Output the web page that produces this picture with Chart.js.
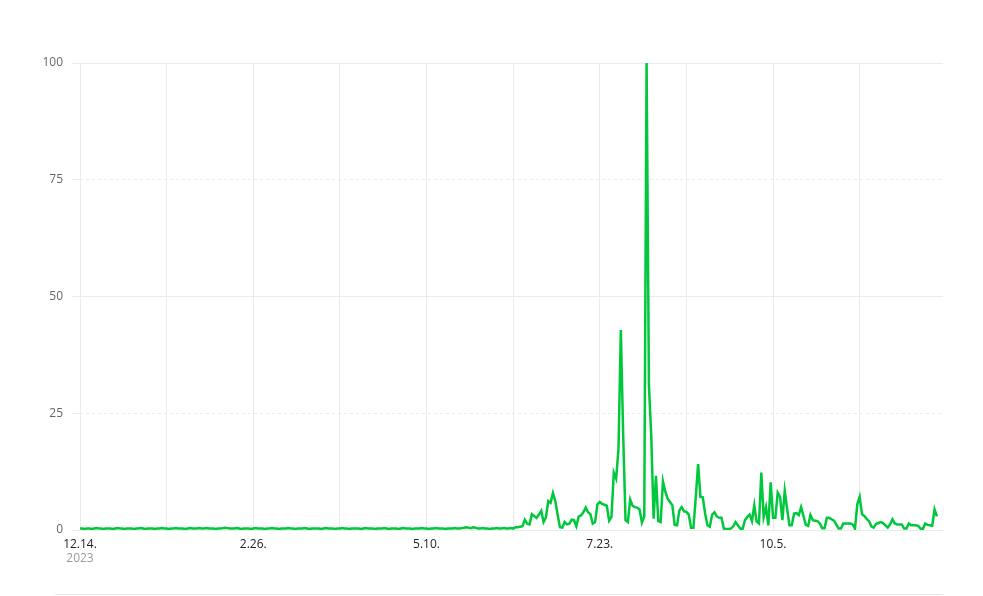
<!DOCTYPE html>
<html>
<head>
<meta charset="utf-8">
<script src="https://cdn.jsdelivr.net/npm/chart.js@4/dist/chart.umd.min.js"></script>
<style>
  html, body { margin: 0; padding: 0; background: #fff; }
  #wrap { position: relative; width: 983px; height: 596px; }
  #bottomRule { position: absolute; left: 55px; top: 594px; width: 888px; height: 0; border-top: 1px solid #e6e6e6; }
</style>
</head>
<body>
<div id="wrap">
  <canvas id="c" width="983" height="596"></canvas>
  <div id="bottomRule"></div>
</div>
<script>
// Daily search-interest index, 2023-12-14 .. 2024-12-14 (day index 0..366)
const yearLabel = '2023';
const tickLabels = ['12.14.', '2.26.', '5.10.', '7.23.', '10.5.'];
const yTicks = [0, 25, 50, 75, 100];

// days 0..184 (quiet period)
const valuesQuiet = [
  0.3,0.3,0.2,0.3,0.3,0.2,0.3,0.4,0.3,0.3,0.2,0.3,0.3,0.3,0.2,0.3,0.4,0.3,0.3,0.2,
  0.3,0.3,0.3,0.2,0.3,0.3,0.4,0.3,0.2,0.3,0.3,0.3,0.2,0.3,0.3,0.4,0.3,0.3,0.2,0.3,
  0.3,0.4,0.3,0.3,0.3,0.2,0.3,0.4,0.3,0.3,0.3,0.4,0.3,0.3,0.4,0.3,0.3,0.3,0.2,0.3,
  0.3,0.4,0.5,0.4,0.3,0.3,0.3,0.4,0.3,0.2,0.3,0.3,0.3,0.2,0.3,0.4,0.3,0.3,0.3,0.2,
  0.3,0.3,0.4,0.3,0.3,0.2,0.3,0.3,0.3,0.4,0.3,0.3,0.2,0.3,0.3,0.3,0.4,0.3,0.2,0.3,
  0.3,0.3,0.3,0.2,0.3,0.4,0.3,0.3,0.3,0.2,0.3,0.3,0.4,0.3,0.3,0.2,0.3,0.3,0.3,0.3,
  0.2,0.3,0.4,0.3,0.3,0.3,0.2,0.3,0.3,0.3,0.4,0.3,0.2,0.3,0.3,0.3,0.2,0.3,0.4,0.3,
  0.3,0.3,0.2,0.3,0.3,0.3,0.4,0.3,0.3,0.2,0.3,0.3,0.4,0.3,0.3,0.3,0.2,0.3,0.3,0.3,
  0.4,0.3,0.3,0.4,0.5,0.6,0.5,0.4,0.6,0.5,0.3,0.3,0.4,0.3,0.3,0.2,0.3,0.3,0.4,0.3,
  0.3,0.4,0.3,0.3,0.4
];
// days 185..366 (active period)
const valuesActive = [
  0.3,0.6,0.6,0.7,0.8,2.2,1.35,1.2,3.4,3.0,2.6,3.3,4.1,1.7,2.7,
  6.2,5.8,7.9,6.2,3.3,0.6,0.5,1.7,1.2,1.35,2.2,2.1,0.8,2.9,3.1,
  3.8,4.8,3.8,3.4,1.35,1.7,5.5,6.0,5.6,5.4,5.2,2.0,2.8,12.3,11.0,
  17.4,42.8,20.4,2.1,1.7,6.5,5.2,4.9,4.8,4.4,1.6,2.9,100,31,20,
  2.4,11.6,1.9,1.7,10.4,8.2,6.7,6.0,5.3,1.1,1.0,4.2,4.9,4.0,3.9,
  3.3,0.5,0.5,7.0,14.1,7.1,7.0,3.5,1.0,0.7,3.3,3.8,2.9,2.6,2.6,
  0.3,0.2,0.2,0.3,0.8,1.7,1.0,0.3,0.2,2.1,2.8,3.3,1.9,5.3,1.8,
  1.4,12.3,2.8,4.9,1.0,10.2,2.6,2.6,8.0,7.1,2.1,8.4,4.6,1.0,1.0,
  3.5,3.6,3.2,4.9,3.0,1.1,0.9,3.2,2.1,2.0,1.9,1.4,0.4,0.4,2.6,
  2.6,2.3,2.0,1.2,0.3,0.3,1.4,1.4,1.4,1.4,1.2,0.3,5.5,7.1,3.4,
  3.0,2.4,1.9,0.8,0.5,1.3,1.5,1.7,1.5,1.0,0.5,1.2,2.3,1.4,1.2,
  1.2,1.2,0.3,0.3,1.4,1.0,1.0,1.0,0.9,0.3,0.2,1.4,1.1,1.0,0.9,
  4.4,2.9
];
const values = valuesQuiet.concat(valuesActive);
const points = values.map((v, i) => ({ x: i, y: v }));

const labelStep = 74;   // days between labelled ticks
const gridStep = 37;    // days between vertical grid lines

const yearPlugin = {
  id: 'yearLabel',
  afterDraw(chart) {
    const xs = chart.scales.x;
    const ctx = chart.ctx;
    ctx.save();
    ctx.font = '12px "Open Sans", "Noto Sans", sans-serif';
    ctx.fillStyle = '#9a9a9a';
    ctx.textAlign = 'center';
    ctx.textBaseline = 'middle';
    ctx.fillText(yearLabel, xs.getPixelForValue(0), 559);
    ctx.restore();
  }
};

new Chart(document.getElementById('c'), {
  type: 'line',
  data: {
    datasets: [{
      data: points,
      borderColor: '#00c73c',
      borderWidth: 2.5,
      pointRadius: 0,
      pointHoverRadius: 0,
      tension: 0,
      fill: false
    }]
  },
  options: {
    responsive: false,
    animation: false,
    events: [],
    layout: { padding: { left: 0, right: 40, top: 63, bottom: 0 } },
    plugins: { legend: { display: false }, tooltip: { enabled: false } },
    scales: {
      x: {
        type: 'linear',
        min: 0,
        max: 368.6,
        afterBuildTicks(scale) {
          const t = [];
          for (let d = 0; d <= 366; d += gridStep) t.push({ value: d });
          scale.ticks = t;
        },
        afterFit(scale) { scale.height = 66; },
        grid: { color: '#ebebeb', lineWidth: 1, drawTicks: false },
        border: { display: false },
        ticks: {
          autoSkip: false,
          maxRotation: 0,
          padding: 7,
          color: '#222',
          font: { family: '"Open Sans", "Noto Sans", sans-serif', size: 12 },
          callback(v) {
            if (v % labelStep === 0) return tickLabels[v / labelStep] || '';
            return '';
          }
        }
      },
      y: {
        min: 0,
        max: 100,
        afterBuildTicks(scale) { scale.ticks = yTicks.map(v => ({ value: v })); },
        afterFit(scale) { scale.width = 80; },
        grid: { color: '#ebebeb', lineWidth: 1, tickLength: 8 },
        border: {
          display: false,
          dash(ctx) { return (ctx.tick && ctx.tick.value % 50 !== 0) ? [3, 3] : []; }
        },
        ticks: {
          padding: 9,
          color: '#666',
          font: { family: '"Open Sans", "Noto Sans", sans-serif', size: 12 }
        }
      }
    }
  },
  plugins: [yearPlugin]
});
</script>
</body>
</html>
